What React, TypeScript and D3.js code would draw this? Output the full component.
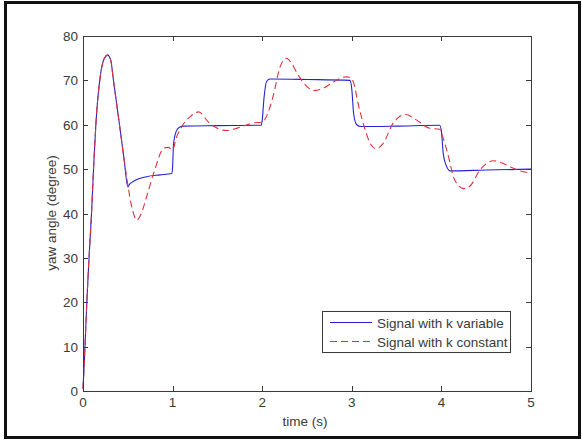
import * as React from "react";
import * as d3 from "d3";

// time (s) and yaw angle (degree)
const tVariable = [0, 0.02, 0.045, 0.07, 0.095, 0.12, 0.15, 0.19, 0.235, 0.275, 0.31, 0.34, 0.41, 0.46, 0.5, 0.52, 0.56, 0.71, 0.86, 0.99, 1.0, 1.01, 1.04, 1.08, 1.12, 1.5, 1.99, 2.0, 2.02, 2.05, 2.09, 2.5, 2.98, 3.0, 3.02, 3.055, 3.1, 3.5, 3.98, 4.0, 4.02, 4.05, 4.1, 4.5, 5.0];
const vVariable = [0.5, 9, 21, 31, 40, 51, 62, 70.5, 74.8, 75.7, 74.5, 70, 59.6, 52, 46, 46.6, 47.2, 48.3, 48.7, 49, 50.5, 55.5, 58.5, 59.5, 59.7, 59.8, 59.9, 61, 66, 69.8, 70.3, 70.2, 70, 68, 62.6, 60, 59.6, 59.7, 59.9, 58.5, 53.6, 51, 49.6, 49.8, 50];

const tConstant = [0, 0.02, 0.045, 0.07, 0.095, 0.12, 0.15, 0.19, 0.235, 0.275, 0.31, 0.34, 0.41, 0.46, 0.5, 0.55, 0.6, 0.65, 0.71, 0.8, 0.9, 0.95, 1.0, 1.04, 1.1, 1.2, 1.29, 1.4, 1.5, 1.6, 1.7, 1.8, 1.9, 2.0, 2.05, 2.12, 2.2, 2.27, 2.33, 2.39, 2.5, 2.58, 2.68, 2.8, 2.93, 2.98, 3.02, 3.07, 3.15, 3.2, 3.27, 3.35, 3.46, 3.53, 3.6, 3.72, 3.87, 3.98, 4.02, 4.06, 4.15, 4.25, 4.32, 4.43, 4.5, 4.58, 4.65, 4.73, 4.88, 5.0];
const vConstant = [0.5, 9, 21, 31, 40, 51, 62, 70.5, 74.8, 75.7, 74.5, 70, 59.6, 52, 46.5, 41, 38.5, 40, 43.8, 49.8, 54.7, 54.9, 54.3, 57, 59.5, 61.9, 62.9, 60.6, 59.2, 58.7, 59.1, 59.8, 60.4, 60.6, 62, 66.3, 73.1, 75, 73.8, 71.6, 68.6, 67.7, 68.2, 69.7, 70.8, 70.7, 69.5, 64.8, 58.8, 56, 54.6, 55.8, 60.3, 61.8, 62.3, 61.1, 59.2, 59, 57, 54.3, 47.5, 45.6, 46.2, 49.8, 51.2, 51.9, 51.6, 50.9, 49.6, 49.1];

const xTicks = [0, 1, 2, 3, 4, 5];
const yTicks = [0, 10, 20, 30, 40, 50, 60, 70, 80];
const legendLabels = ["Signal with k variable", "Signal with k constant"];

function drawChart(svgEl) {
    const svg = d3.select(svgEl);
    svg.selectAll("*").remove();

    const font = "'Liberation Sans', Arial, sans-serif";
    const fontSize = 13.5;
    const ink = "#3a3a3a";
    const blue = "#2222d8";
    const red = "#e0303a";

    // figure frame
    svg.append("rect")
        .attr("x", 5.5).attr("y", 2.5)
        .attr("width", 574).attr("height", 435)
        .attr("fill", "#fff")
        .attr("stroke", "#111")
        .attr("stroke-width", 3);

    const left = 83, right = 531, top = 36, bottom = 391;
    const x = d3.scaleLinear().domain([0, 5]).range([left, right]);
    const y = d3.scaleLinear().domain([0, 80]).range([bottom, top]);

    const tickLen = 5;
    const axes = svg.append("g").attr("stroke", ink).attr("stroke-width", 1);
    // inward ticks on all four sides
    xTicks.forEach(function (t) {
        const px = Math.round(x(t)) + 0.5;
        axes.append("line").attr("x1", px).attr("x2", px).attr("y1", bottom).attr("y2", bottom - tickLen);
        axes.append("line").attr("x1", px).attr("x2", px).attr("y1", top).attr("y2", top + tickLen);
    });
    yTicks.forEach(function (v) {
        const py = Math.round(y(v)) + 0.5;
        axes.append("line").attr("x1", left).attr("x2", left + tickLen).attr("y1", py).attr("y2", py);
        axes.append("line").attr("x1", right).attr("x2", right - tickLen).attr("y1", py).attr("y2", py);
    });

    const line = d3.line()
        .x(function (d) { return x(d[0]); })
        .y(function (d) { return y(d[1]); })
        .curve(d3.curveMonotoneX);

    const plot = svg.append("g");
    plot.append("path")
        .attr("d", line(tVariable.map(function (t, i) { return [t, vVariable[i]]; })))
        .attr("fill", "none").attr("stroke", blue).attr("stroke-width", 1.1);
    plot.append("path")
        .attr("d", line(tConstant.map(function (t, i) { return [t, vConstant[i]]; })))
        .attr("fill", "none").attr("stroke", red).attr("stroke-width", 1.1)
        .attr("stroke-dasharray", "7,4");

    // box
    svg.append("rect")
        .attr("x", left + 0.5).attr("y", top + 0.5)
        .attr("width", right - left).attr("height", bottom - top)
        .attr("fill", "none").attr("stroke", ink);

    // tick labels
    const labels = svg.append("g")
        .attr("font-family", font).attr("font-size", fontSize).attr("fill", ink);
    xTicks.forEach(function (t) {
        labels.append("text").attr("x", x(t)).attr("y", bottom + 16)
            .attr("text-anchor", "middle").text(t);
    });
    yTicks.forEach(function (v) {
        labels.append("text").attr("x", left - 5).attr("y", y(v) + 5)
            .attr("text-anchor", "end").text(v);
    });

    labels.append("text").attr("x", 305).attr("y", 426)
        .attr("text-anchor", "middle").text("time (s)");
    labels.append("text")
        .attr("transform", "translate(56," + 213 + ") rotate(-90)")
        .attr("text-anchor", "middle").text("yaw angle (degree)");

    // legend
    const legend = svg.append("g");
    legend.append("rect")
        .attr("x", 322.5).attr("y", 311.5)
        .attr("width", 188).attr("height", 41)
        .attr("fill", "#fff").attr("stroke", ink);
    const rows = [322.5, 341.5];
    const styles = [[blue, null], [red, "7,4"]];
    legendLabels.forEach(function (label, i) {
        legend.append("line")
            .attr("x1", 330).attr("x2", 372)
            .attr("y1", rows[i]).attr("y2", rows[i])
            .attr("stroke", styles[i][0]).attr("stroke-width", 1.1)
            .attr("stroke-dasharray", styles[i][1]);
        legend.append("text")
            .attr("x", 377).attr("y", rows[i] + 5)
            .attr("font-family", font).attr("font-size", fontSize).attr("fill", ink)
            .text(label);
    });
}

const App = () => {
    const svg = React.useRef(null);
    React.useEffect(() => {
        document.body.style.margin = "0";
        drawChart(svg.current);
    }, [svg]);

    return (
        <div id="chart">
            <svg ref={svg} width={582} height={440} style={{ display: "block" }}></svg>
        </div>
    );
};

export default App;
